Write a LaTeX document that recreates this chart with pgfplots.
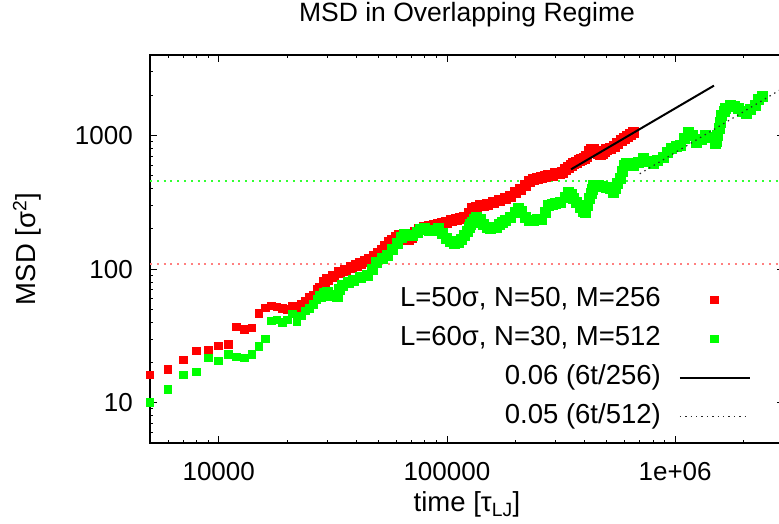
\documentclass[border=0pt]{standalone}
\usepackage{fontspec}
\setmainfont{Liberation Sans}
\usepackage{pgfplots}
\pgfplotsset{compat=1.18}
\definecolor{gpred}{RGB}{255,0,0}
\definecolor{gpgreen}{RGB}{0,255,0}
\newcommand{\bigf}{\fontsize{27.5}{33}\selectfont}
\newcommand{\titf}{\fontsize{26.5}{32}\selectfont}
\newcommand{\tickf}{\fontsize{26}{31}\selectfont}
\pgfplotsset{
  markleg/.style={legend image code/.code={\draw[mark repeat=2,mark phase=2,##1] plot coordinates {(0pt,0pt) (35pt,0pt) (70pt,0pt)};}},
  lineleg/.style={legend image code/.code={\draw[##1] (0pt,0pt) -- (70pt,0pt);}},
}
\begin{document}
\begin{tikzpicture}[font=\bigf]
\begin{axis}[
  at={(0pt,0pt)}, anchor=south west,
  scale only axis, width=634pt, height=388pt,
  clip=false, clip marker paths=true,
  xmode=log, ymode=log,
  xmin=5000, xmax=3000000, ymin=5, ymax=4000,
  xtick={10000,100000,1000000}, xticklabels={10000,100000,1e+06},
  ytick={10,100,1000}, yticklabels={10,100,1000},
  minor xtick={6000,7000,8000,9000,20000,30000,40000,50000,60000,70000,80000,90000,200000,300000,400000,500000,600000,700000,800000,900000,2000000,3000000},
  minor ytick={6,7,8,9,20,30,40,50,60,70,80,90,200,300,400,500,600,700,800,900,2000,3000,4000},
  tick align=inside, major tick length=7pt, minor tick length=3.5pt,
  axis line style={line width=1.2pt, black},
  tick style={line width=0.8pt, black},
  tick label style={font=\tickf},
  xticklabel style={inner sep=0pt, anchor=north, yshift=-19pt},
  yticklabel style={inner sep=0pt, anchor=east, xshift=-17pt},
  title={MSD in Overlapping Regime},
  title style={at={(axis description cs:0.5,1.072)}, anchor=base, inner sep=0pt, font=\titf},
  xlabel={time [τ\textsubscript{LJ}]},
  xlabel style={at={(axis description cs:0.5,-0.177)}, anchor=base, inner sep=0pt, font=\bigf},
  ylabel={MSD [σ\textsuperscript{2}]},
  ylabel style={at={(axis description cs:-0.194,0.5)}, anchor=center, inner sep=0pt, font=\bigf},
  legend cell align=right, legend plot pos=right,
  legend style={at={(axis description cs:0.948,0.408)}, anchor=north east, draw=none, fill=none, font=\bigf, inner sep=0pt, row sep=9pt,
    nodes={inner sep=2pt, text height=20pt, text depth=6pt},
    /tikz/every odd column/.append style={column sep=16pt}},
]
\addplot[forget plot, gpred!50, line width=1.8pt, dash pattern=on 2pt off 4.8pt] coordinates {(5000,109) (3000000,109)};
\addplot[forget plot, gpgreen!80, line width=1.8pt, dash pattern=on 2pt off 4.8pt] coordinates {(5000,455) (3000000,455)};
% red: sparse early points
\addplot[only marks, mark=square*, mark size=3.85pt, mark options={fill=gpred, draw=gpred, line width=0pt}, markleg]
coordinates {
(5000,16.1) (6000,17.8) (7000,20.9) (8000,24.4) (9000,24.8) (10000,26.6) (11000,27.4) (12000,36.9) (13000,35.4) (14000,36.3)
(15000,46.8) (16000,51.3) (17000,53.1) (18000,52.2) (19000,50.9) (20000,50.1) (21000,52.5) (22000,50.7) (23000,54.6) (24000,57.3)
(25000,61.4) (26000,63.1) (27000,70.8)
};
\addlegendentry{L=50σ, N=50, M=256}
% green: sparse early points
\addplot[only marks, mark=square*, mark size=3.85pt, mark options={fill=gpgreen, draw=gpgreen, line width=0pt}, markleg]
coordinates {
(5000,10.1) (6000,12.6) (7000,16.1) (8000,17) (9000,21.6) (10000,20.5) (11000,23) (12000,22) (13000,21.6) (14000,23)
(15000,26.4) (16000,30) (17000,40.9) (18000,41.7) (19000,39.8) (20000,41.7) (21000,46.2) (22000,40.7) (23000,44.7) (24000,48.7)
(25000,50.7) (26000,54.6) (27000,59.6)
};
\addlegendentry{L=60σ, N=30, M=512}
% red: dense band
\addplot[forget plot, only marks, mark=square*, mark size=5pt, mark options={fill=gpred, draw=gpred, line width=0pt}]
coordinates {
(28000,72) (29000,80) (30000,84) (32000,88) (34000,94) (36000,97) (38000,103)
(40000,107) (42000,110) (44000,114) (46000,118) (48000,125) (50000,131) (52000,138) (54000,148) (56000,157) (58000,165)
(60000,172) (62000,177) (64000,175) (66000,170) (68000,168) (70000,172) (73000,188) (76000,198) (80000,205) (84000,210)
(88000,212) (92000,216) (96000,220) (100000,224) (105000,230) (110000,236) (115000,240) (120000,245) (125000,262) (130000,282)
(135000,290) (140000,297) (145000,300) (150000,305) (160000,315) (170000,328) (180000,338) (190000,352) (200000,375) (210000,395)
(220000,420) (230000,455) (240000,468) (250000,475) (260000,486) (270000,490) (280000,498) (290000,505) (300000,515) (310000,520)
(320000,530) (330000,555) (340000,580) (350000,598) (360000,612) (370000,630) (380000,645) (390000,660) (400000,670) (410000,700)
(420000,760) (430000,790) (440000,780) (450000,750) (460000,730) (470000,725) (480000,735) (490000,760) (500000,780) (520000,795)
(540000,830) (560000,870) (580000,920) (600000,950) (620000,990) (640000,1020) (655000,1045)
};
% green: dense band
\addplot[forget plot, only marks, mark=square*, mark size=5pt, mark options={fill=gpgreen, draw=gpgreen, line width=0pt}]
coordinates {
(28000,62) (29000,66) (30000,67) (31000,64) (32000,63) (33000,62) (34000,70)
(35000,75) (37000,79) (39000,82) (42000,86) (45000,89) (47000,100) (49000,112) (52000,120) (55000,127) (58000,140)
(61000,155) (63000,172) (65000,183) (68000,180) (71000,178) (74000,188) (77000,198) (80000,200) (84000,196) (88000,194)
(92000,200) (96000,185) (100000,170) (104000,160) (108000,155) (112000,157) (116000,168) (120000,180) (122500,192) (125000,205)
(127500,215) (130000,225) (132500,235) (135000,244) (140000,235) (145000,215) (150000,205) (155000,203) (160000,204) (165000,206)
(170000,215) (175000,222) (180000,230) (190000,245) (200000,265) (206000,282) (212000,268) (220000,245) (230000,230) (240000,232)
(250000,236) (260000,237) (270000,265) (280000,298) (290000,305) (300000,310) (315000,316) (330000,345) (340000,375) (350000,360)
(360000,335) (371000,316) (385000,290) (395000,272) (404000,266) (415000,300) (421000,335) (428000,370) (434000,395) (440000,422)
(460000,420) (480000,415) (500000,410) (520000,400) (538000,376) (550000,400) (560000,440) (575000,473) (590000,540) (600000,600)
(615000,613) (630000,620) (658000,596) (690000,630) (728000,668) (760000,640) (804000,613) (840000,645) (889000,689) (930000,740)
(968000,794) (1010000,820) (1052000,841) (1100000,950) (1145000,1059) (1190000,1000) (1245000,891) (1300000,930) (1355000,1000) (1420000,960)
(1500000,866) (1520000,900) (1540000,1000) (1560000,1120) (1580000,1260) (1604000,1413) (1640000,1520) (1670000,1580) (1742000,1679) (1820000,1650)
(1897000,1585) (1980000,1500) (2060000,1455) (2150000,1560) (2244000,1679) (2330000,1850) (2410000,1960)
};
\addplot[black, line width=2pt, lineleg]
coordinates {(350000,558) (1480000,2360)};
\addlegendentry{0.06 (6t/256)}
\addplot[black!85, line width=1.2pt, dash pattern=on 1.4pt off 4pt, lineleg]
coordinates {(700000,517) (3000000,2285)};
\addlegendentry{0.05 (6t/512)}
\end{axis}
\pgfresetboundingbox
\path[use as bounding box] (-150pt,-80pt) rectangle (629pt,443pt);
\end{tikzpicture}
\end{document}
